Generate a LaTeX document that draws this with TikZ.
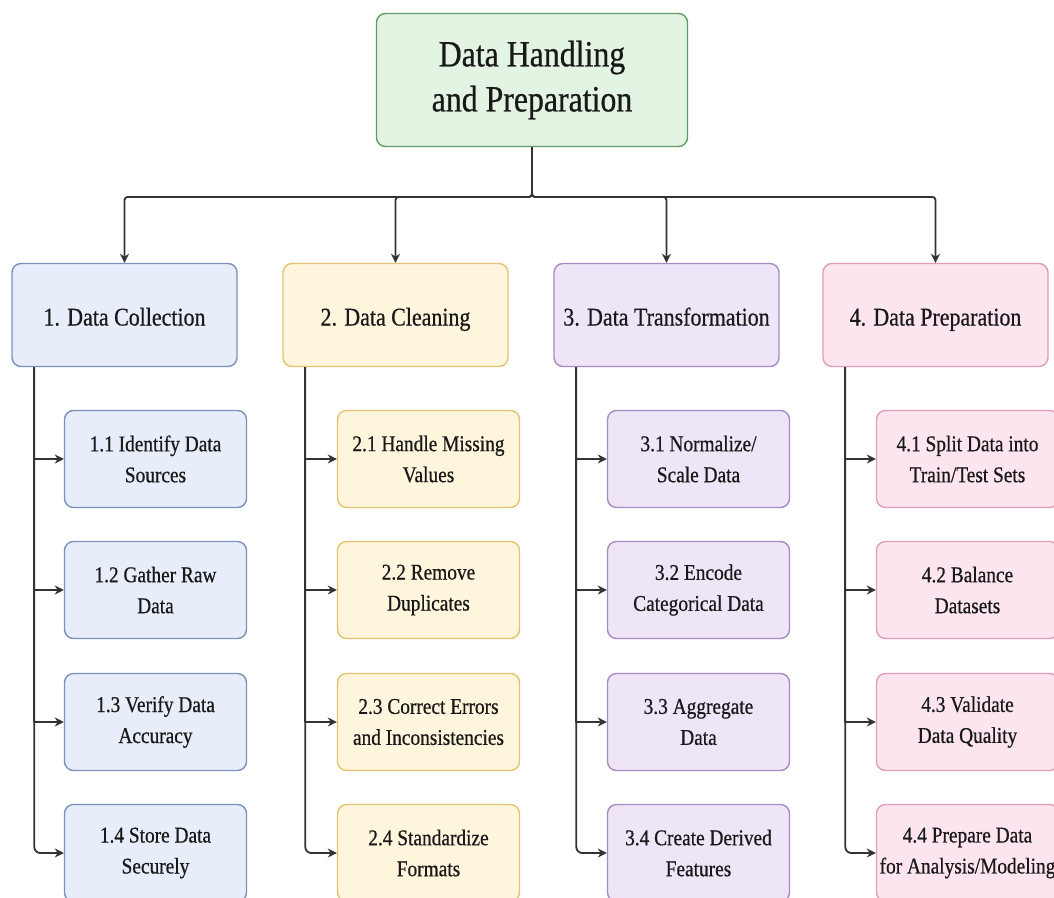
\documentclass[tikz,border=0pt]{standalone}
\usepackage{fontspec}
\setmainfont{Liberation Serif}[FakeStretch=0.86,FakeBold=0.6]
\usetikzlibrary{arrows.meta}
\definecolor{rootfill}{HTML}{E4F4E2}
\definecolor{rootline}{HTML}{5E9E66}
\definecolor{fillA}{HTML}{E7EEF9}
\definecolor{lineA}{HTML}{7B93BC}
\definecolor{fillB}{HTML}{FEF5DD}
\definecolor{lineB}{HTML}{E3C46E}
\definecolor{fillC}{HTML}{EEE5F6}
\definecolor{lineC}{HTML}{A58CC6}
\definecolor{fillD}{HTML}{FCE5EF}
\definecolor{lineD}{HTML}{DE9DB9}
\definecolor{linkgray}{HTML}{333333}
\begin{document}
\begin{tikzpicture}[x=1pt,y=-1pt,line join=round,>={Stealth[length=9pt,width=9pt]}]
	\tikzset{box/.style={draw,rounded corners=9pt,line width=1.4pt,align=center,inner sep=0pt,text=black!90},
		catbox/.style={box,minimum width=225pt,minimum height=103pt,text height=21pt,text depth=0pt,font=\fontsize{25.5}{30}\selectfont},
		subbox/.style={box,minimum width=182pt,minimum height=97pt,font=\fontsize{22.5}{31}\selectfont},
		link/.style={line width=1.8pt,draw=linkgray}}
	\useasboundingbox[fill=white] (0,0) rectangle (1054,897);
	\node[box,fill=rootfill,draw=rootline,minimum width=311pt,minimum height=133pt,font=\fontsize{37}{45}\selectfont] (root) at (532,80) {Data Handling\\and Preparation};
	\foreach \i/\x/\col/\txt in {1/124.5/A/{1. Data Collection},2/395.5/B/{2. Data Cleaning},3/666.5/C/{3. Data Transformation},4/935.5/D/{4. Data Preparation}}
	\node[catbox,fill=fill\col,draw=line\col] (c\i) at (\x,315) {\txt};
	\begin{scope}[every node/.style={subbox,fill=fillA,draw=lineA}]
		\node (s11) at (155.5,459) {1.1 Identify Data\\Sources};
		\node (s12) at (155.5,590) {1.2 Gather Raw\\Data};
		\node (s13) at (155.5,722) {1.3 Verify Data\\Accuracy};
		\node (s14) at (155.5,853) {1.4 Store Data\\Securely};
	\end{scope}
	\begin{scope}[every node/.style={subbox,fill=fillB,draw=lineB}]
		\node (s21) at (428.5,459) {2.1 Handle Missing\\Values};
		\node (s22) at (428.5,590) {2.2 Remove\\Duplicates};
		\node (s23) at (428.5,722) {2.3 Correct Errors\\and Inconsistencies};
		\node (s24) at (428.5,853) {2.4 Standardize\\Formats};
	\end{scope}
	\begin{scope}[every node/.style={subbox,fill=fillC,draw=lineC}]
		\node (s31) at (698.5,459) {3.1 Normalize/\\Scale Data};
		\node (s32) at (698.5,590) {3.2 Encode\\Categorical Data};
		\node (s33) at (698.5,722) {3.3 Aggregate\\Data};
		\node (s34) at (698.5,853) {3.4 Create Derived\\Features};
	\end{scope}
	\begin{scope}[every node/.style={subbox,fill=fillD,draw=lineD}]
		\node (s41) at (967.5,459) {4.1 Split Data into\\Train/Test Sets};
		\node (s42) at (967.5,590) {4.2 Balance\\Datasets};
		\node (s43) at (967.5,722) {4.3 Validate\\Data Quality};
		\node (s44) at (967.5,853) {4.4 Prepare Data\\for Analysis/Modeling};
	\end{scope}
	\coordinate (bar) at (532,197);
	\foreach \i in {1,...,4}
	\draw[link,->,rounded corners=3pt] (root.south) -- (bar) -| (c\i.north);
	\foreach \i in {1,...,4} {
		\foreach \j in {1,2,3}
		\draw[link,->] ([xshift=23pt]c\i.south west) |- (s\i\j.west);
		\draw[link,->,rounded corners=6pt] ([xshift=23pt]c\i.south west) |- (s\i4.west);
	}
\end{tikzpicture}
\end{document}
